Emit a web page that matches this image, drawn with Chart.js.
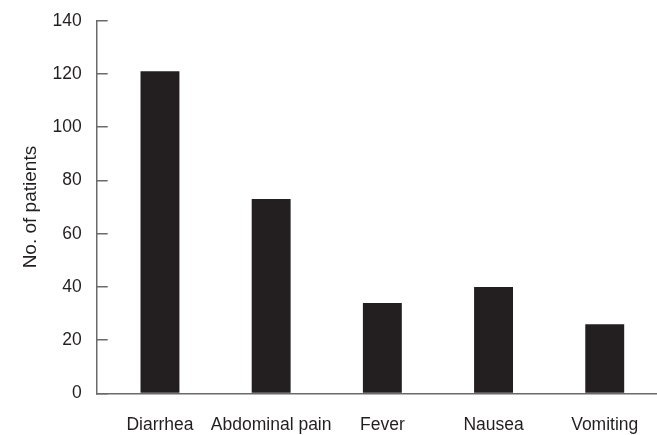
<!DOCTYPE html>
<html>
<head>
<meta charset="utf-8">
<script src="https://cdn.jsdelivr.net/npm/chart.js@4.4.0/dist/chart.umd.min.js"></script>
<style>
html,body{margin:0;padding:0;background:#fff;}
#wrap{width:657px;height:435px;position:relative;}
</style>
</head>
<body>
<div id="wrap"><canvas id="c" width="657" height="435"></canvas></div>
<script>
const categories = ['Diarrhea', 'Abdominal pain', 'Fever', 'Nausea', 'Vomiting'];
const patients = [121, 73, 34, 40, 26];
const yTicks = [0, 20, 40, 60, 80, 100, 120, 140];

const FONT = "'Liberation Sans Narrow', 'Arial Narrow', 'Liberation Sans', Arial, sans-serif";
const AXIS = '#6a6a6a';
const INK = '#231f20';

const chart = new Chart(document.getElementById('c'), {
  type: 'bar',
  data: {
    datasets: [{
      data: categories.map((c, i) => ({ x: i, y: patients[i] })),
      backgroundColor: INK,
      borderWidth: 0,
      barPercentage: 0.35,
      categoryPercentage: 1.0
    }]
  },
  options: {
    responsive: false,
    animation: false,
    devicePixelRatio: 1,
    layout: { padding: { top: 20.7, right: 0, bottom: 0, left: 0 } },
    plugins: { legend: { display: false }, tooltip: { enabled: false } },
    scales: {
      x: {
        type: 'linear',
        offset: false,
        min: -0.569,
        max: 4.47,
        afterBuildTicks: s => { s.ticks = categories.map((c, i) => ({ value: i })); },
        afterFit: s => { s.height = 41.5; s.paddingLeft = 0; s.paddingRight = 0; },
        grid: { display: false, drawTicks: false },
        border: { display: true, color: AXIS, width: 1.5 },
        ticks: {
          autoSkip: false,
          maxRotation: 0,
          padding: 21,
          color: INK,
          font: { family: FONT, size: 17.5 },
          callback: v => categories[v] !== undefined ? categories[v] : ''
        }
      },
      y: {
        min: 0,
        max: 140,
        afterBuildTicks: s => { s.ticks = yTicks.map(v => ({ value: v })); },
        afterFit: s => { s.width = 96.7; s.paddingTop = 0; s.paddingBottom = 0; },
        grid: { display: true, drawOnChartArea: false, drawTicks: true, tickLength: -11, color: AXIS, lineWidth: 1.5 },
        border: { display: true, color: AXIS, width: 1.5 },
        ticks: {
          padding: 26,
          color: INK,
          font: { family: FONT, size: 17.5 }
        },
        title: {
          display: true,
          text: 'No. of patients',
          color: INK,
          font: { family: FONT, size: 19 },
          padding: { top: 19, bottom: 0 }
        }
      }
    }
  }
});
</script>
</body>
</html>
